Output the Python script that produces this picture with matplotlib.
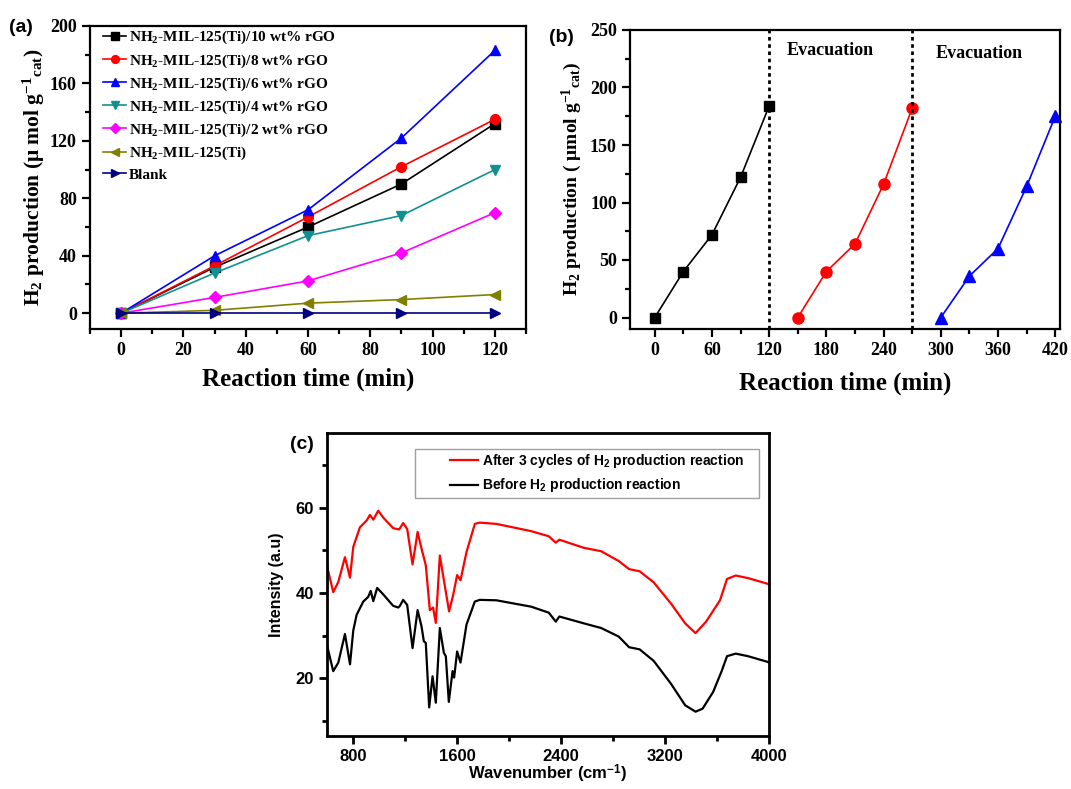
import matplotlib
matplotlib.use("Agg")
import matplotlib.pyplot as plt
from matplotlib.ticker import MultipleLocator
from matplotlib.patches import Rectangle

# ---- data: panel (a) ----
time_a = [0, 30, 60, 90, 120]
rgo10 = [0, 32, 60, 90, 132]
rgo8 = [0, 33, 67, 102, 135]
rgo6 = [0, 40, 72, 122, 183]
rgo4 = [0, 28, 54, 68, 100]
rgo2 = [0, 11, 22.5, 42, 70]
mil = [0, 2, 7, 9.5, 13]
blank = [0, 0, 0, 0, 0]
labels_a = ["NH$_2$-MIL-125(Ti)/10 wt% rGO", "NH$_2$-MIL-125(Ti)/8 wt% rGO",
            "NH$_2$-MIL-125(Ti)/6 wt% rGO", "NH$_2$-MIL-125(Ti)/4 wt% rGO",
            "NH$_2$-MIL-125(Ti)/2 wt% rGO", "NH$_2$-MIL-125(Ti)", "Blank"]

# ---- data: panel (b) ----
cyc1_t = [0, 30, 60, 90, 120]
cyc1_h = [0, 40, 72, 122, 184]
cyc2_t = [150, 180, 210, 240, 270]
cyc2_h = [0, 40, 64, 116, 182]
cyc3_t = [300, 330, 360, 390, 420]
cyc3_h = [0, 36, 60, 114, 175]
evac_t = [120, 270]

# ---- data: panel (c) FTIR ----
wn_after = [602, 648, 687, 738, 777, 802, 853, 905, 930, 956, 994, 1032, 1109, 1155,
            1186, 1217, 1258, 1297, 1327, 1360, 1391, 1416, 1437, 1468, 1499, 1539,
            1570, 1601, 1627, 1673, 1737, 1775, 1903, 2171, 2306, 2360, 2387, 2575,
            2709, 2844, 2924, 3005, 3113, 3247, 3355, 3435, 3516, 3623, 3677, 3744,
            3839, 3986, 4000]
int_after = [46.1, 40.2, 42.6, 48.4, 43.6, 50.8, 55.4, 57.0, 58.3, 57.2, 59.3, 57.7,
             55.2, 54.9, 56.4, 55.0, 46.7, 54.3, 50.4, 46.5, 36.0, 36.6, 33.0, 48.8,
             43.0, 35.7, 39.5, 44.2, 43.0, 49.6, 56.2, 56.5, 56.2, 54.5, 53.3, 51.8,
             52.5, 50.6, 49.8, 47.5, 45.6, 45.1, 42.5, 37.5, 32.9, 30.6, 33.3, 38.3,
             43.3, 44.1, 43.5, 42.2, 42.0]
wn_before = [602, 648, 687, 738, 777, 802, 828, 879, 917, 936, 956, 986, 1032, 1109,
             1148, 1161, 1186, 1217, 1258, 1297, 1327, 1345, 1360, 1386, 1412, 1437,
             1468, 1499, 1514, 1537, 1566, 1578, 1601, 1627, 1673, 1737, 1775, 1903,
             2171, 2306, 2360, 2387, 2575, 2709, 2844, 2924, 3005, 3113, 3247, 3355,
             3435, 3489, 3570, 3637, 3677, 3744, 3839, 3986, 4000]
int_before = [27.5, 21.7, 23.7, 30.4, 23.3, 31.2, 34.9, 38.0, 39.1, 40.5, 38.1, 41.2,
              39.7, 37.0, 36.6, 37.0, 38.4, 37.2, 27.1, 36.0, 32.2, 28.7, 28.3, 13.2,
              20.5, 14.3, 31.8, 26.0, 25.2, 14.5, 21.7, 20.2, 26.3, 23.7, 32.6, 38.0,
              38.4, 38.3, 36.8, 35.4, 33.3, 34.5, 32.9, 31.8, 29.8, 27.3, 26.8, 24.1,
              18.7, 13.7, 12.2, 12.9, 16.8, 21.8, 25.2, 25.8, 25.2, 23.9, 23.7]
labels_c = ["After 3 cycles of H$_\\mathsf{2}$ production reaction",
            "Before H$_\\mathsf{2}$ production reaction"]

plt.rcParams['font.family'] = ['Liberation Serif', 'DejaVu Serif']
plt.rcParams['font.weight'] = 'bold'
plt.rcParams['axes.labelweight'] = 'bold'
plt.rcParams['mathtext.fontset'] = 'custom'
plt.rcParams['mathtext.rm'] = 'Liberation Serif:bold'
plt.rcParams['mathtext.it'] = 'Liberation Serif:bold'
plt.rcParams['mathtext.bf'] = 'Liberation Serif:bold'
plt.rcParams['mathtext.sf'] = 'Liberation Sans:bold'

fig = plt.figure(figsize=(10.71, 7.89), dpi=100)
W, H = 1071, 789


def px_axes(l, t, r, b):
    return fig.add_axes([l / W, 1 - b / H, (r - l) / W, (b - t) / H])


def style_axes(ax, lw, size, family=None):
    for s in ax.spines.values():
        s.set_linewidth(lw)
    ax.tick_params(which='major', direction='out', length=6, width=lw, labelsize=size,
                   top=False, right=False)
    ax.tick_params(which='minor', direction='out', length=3.5, width=lw,
                   top=False, right=False)
    if family:
        for lab in ax.get_xticklabels() + ax.get_yticklabels():
            lab.set_fontfamily(family)
            lab.set_fontweight('bold')


# ---------------- (a) ----------------
ax1 = px_axes(90, 26, 526, 329)
series_a = [rgo10, rgo8, rgo6, rgo4, rgo2, mil, blank]
colors_a = ['black', '#ff0000', '#0000ff', '#109090', '#ff00ff', '#808000', '#000080']
markers_a = ['s', 'o', '^', 'v', 'D', '<', '>']
for ys, c, m, lab in zip(series_a, colors_a, markers_a, labels_a):
    ms = 6 if m == 'D' else 7
    ax1.plot(time_a, ys, color=c, marker=m, markersize=ms, lw=1.2, label=lab)
ax1.set_xlim(-10, 130)
ax1.set_ylim(-11, 200)
ax1.xaxis.set_major_locator(MultipleLocator(20))
ax1.xaxis.set_minor_locator(MultipleLocator(10))
ax1.yaxis.set_major_locator(MultipleLocator(40))
ax1.yaxis.set_minor_locator(MultipleLocator(20))
style_axes(ax1, 1.6, 13)
ax1.set_xlabel("Reaction time (min)", fontsize=18, labelpad=6)
ax1.set_ylabel("H$_2$ production (μ mol g$^{-1}$$_{\\rm cat}$)", fontsize=15.5, labelpad=2)
ax1.legend(loc='upper left', bbox_to_anchor=(0.03, 0.99), frameon=False,
           fontsize=11, handlelength=1.5, handletextpad=0.2, labelspacing=0.38,
           borderpad=0, borderaxespad=0, markerscale=0.8)
fig.text(21 / W, 1 - 28 / H, "(a)", family='Liberation Sans', fontweight='bold',
         fontsize=14, ha='center', va='center')

# ---------------- (b) ----------------
ax2 = px_axes(630, 30, 1060, 329)
ax2.plot(cyc1_t, cyc1_h, color='black', marker='s', markersize=7.5, lw=1.2, clip_on=False)
ax2.plot(cyc2_t, cyc2_h, color='#ff0000', marker='o', markersize=8, lw=1.2, clip_on=False)
ax2.plot(cyc3_t, cyc3_h, color='#0000ff', marker='^', markersize=8, lw=1.2, clip_on=False)
for t in evac_t:
    ax2.axvline(t, color='black', lw=2, linestyle=(0, (1.3, 1.3)))
ax2.text(184, 232, "Evacuation", fontsize=13, ha='center', va='center')
ax2.text(340, 230, "Evacuation", fontsize=13, ha='center', va='center')
ax2.set_xlim(-26, 425)
ax2.set_ylim(-10, 250)
ax2.xaxis.set_major_locator(MultipleLocator(60))
ax2.xaxis.set_minor_locator(MultipleLocator(30))
ax2.yaxis.set_major_locator(MultipleLocator(50))
ax2.yaxis.set_minor_locator(MultipleLocator(25))
style_axes(ax2, 1.6, 13)
ax2.set_xlabel("Reaction time (min)", fontsize=18, labelpad=9)
ax2.set_ylabel("H$_2$ production ( μmol g$^{-1}$$_{\\rm cat}$)", fontsize=14, labelpad=4)
fig.text(561 / W, 1 - 38 / H, "(b)", family='Liberation Sans', fontweight='bold',
         fontsize=14, ha='center', va='center')

# ---------------- (c) ----------------
ax3 = px_axes(327, 433, 769, 736)
ax3.plot(wn_after, int_after, color='#ff0000', lw=1.6, label=labels_c[0])
ax3.plot(wn_before, int_before, color='black', lw=1.6, label=labels_c[1])
ax3.set_xlim(600, 4000)
ax3.set_ylim(6.5, 77.5)
ax3.xaxis.set_major_locator(MultipleLocator(800))
ax3.xaxis.set_minor_locator(MultipleLocator(400))
ax3.yaxis.set_major_locator(MultipleLocator(20))
ax3.yaxis.set_minor_locator(MultipleLocator(10))
style_axes(ax3, 2.0, 12, family='Liberation Sans')
ax3.set_xlabel("Wavenumber (cm$^{\\mathsf{-1}}$)", fontsize=12, family='Liberation Sans',
               labelpad=-1)
ax3.set_ylabel("Intensity (a.u)", fontsize=11.5, family='Liberation Sans', labelpad=8)
ax3.add_patch(Rectangle((0.199, 0.785), 0.7775, 0.162, transform=ax3.transAxes,
                        fill=False, edgecolor='#a0a0a0', lw=1.0))
leg = ax3.legend(loc='center left', bbox_to_anchor=(0.278, 0.868), frameon=False,
                 handlelength=2.0, handletextpad=0.3, labelspacing=0.5,
                 borderpad=0, borderaxespad=0, prop={'family': 'Liberation Sans',
                                                     'weight': 'bold', 'size': 10})
fig.text(302 / W, 1 - 444 / H, "(c)", family='Liberation Sans', fontweight='bold',
         fontsize=14, ha='center', va='center')

fig.savefig("out.png", dpi=100)
